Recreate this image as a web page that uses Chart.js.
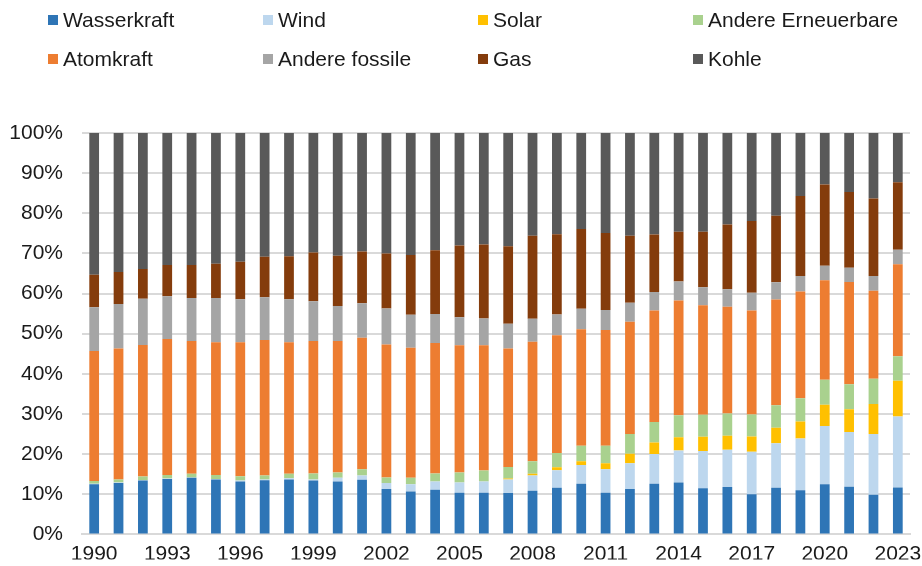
<!DOCTYPE html>
<html>
<head>
<meta charset="utf-8">
<script src="https://cdn.jsdelivr.net/npm/chart.js@4.4.1/dist/chart.umd.min.js"></script>
<style>
  html, body { margin: 0; padding: 0; background: #fff; }
  #wrap { position: relative; width: 922px; height: 566px; }
  #chart { position: absolute; left: 0; top: 0; }
  .legend-item {
    position: absolute;
    font-family: "Liberation Sans", Arial, sans-serif;
    font-size: 21px;
    color: #1a1a1a;
    line-height: 24px;
    white-space: nowrap;
  }
  .legend-item span.box {
    position: absolute;
    left: -15px;
    top: 7px;
    width: 10px;
    height: 10px;
  }
</style>
</head>
<body>
<div id="wrap">
  <canvas id="chart" width="922" height="566"></canvas>
</div>
<script>
const years = [
  "1990", "1991", "1992", "1993", "1994", "1995", "1996", "1997", "1998", "1999",
  "2000", "2001", "2002", "2003", "2004", "2005", "2006", "2007", "2008", "2009",
  "2010", "2011", "2012", "2013", "2014", "2015", "2016", "2017", "2018", "2019",
  "2020", "2021", "2022", "2023"
];

// Anteile in Prozent, von unten nach oben gestapelt
const wasserkraft = [12.5, 12.8, 13.4, 13.8, 14.1, 13.7, 13.2, 13.5, 13.7, 13.4,
  13.2, 13.6, 11.3, 10.7, 11.1, 10.4, 10.4, 10.3, 10.9, 11.6,
  12.6, 10.4, 11.3, 12.6, 12.9, 11.5, 11.8, 10.0, 11.6, 11.0,
  12.5, 11.9, 9.9, 11.7];
const wind = [0.1, 0.1, 0.1, 0.1, 0.1, 0.1, 0.2, 0.2, 0.3, 0.3,
  0.9, 1.1, 1.5, 1.8, 2.1, 2.5, 2.8, 3.4, 3.8, 4.4,
  4.7, 5.8, 6.4, 7.4, 8.0, 9.3, 9.3, 10.6, 11.1, 12.9,
  14.5, 13.6, 15.1, 17.7];
const solar = [0, 0, 0, 0, 0, 0, 0, 0, 0, 0,
  0, 0, 0, 0, 0, 0, 0, 0.2, 0.4, 0.7,
  0.9, 1.5, 2.4, 2.9, 3.3, 3.5, 3.5, 3.8, 3.9, 4.2,
  5.3, 5.7, 7.5, 8.9];
const andereErneuerbare = [0.7, 0.8, 0.9, 0.9, 0.9, 1.0, 1.1, 1.0, 1.1, 1.5,
  1.3, 1.5, 1.4, 1.6, 2.0, 2.5, 2.7, 2.9, 3.1, 3.6,
  3.9, 4.4, 4.9, 5.1, 5.5, 5.5, 5.5, 5.5, 5.6, 5.8,
  6.2, 6.2, 6.3, 6.1];
const atomkraft = [32.4, 32.6, 32.8, 33.9, 33.1, 33.1, 33.4, 33.7, 32.8, 33.0,
  32.8, 32.8, 33.1, 32.4, 32.5, 31.7, 31.2, 29.5, 29.8, 29.3,
  29.0, 28.8, 28.0, 27.8, 28.6, 27.3, 26.6, 25.9, 26.3, 26.6,
  24.8, 25.5, 21.9, 22.9];
const andereFossile = [10.9, 11.1, 11.5, 10.6, 10.7, 11.0, 10.7, 10.7, 10.7, 9.9,
  8.7, 8.6, 9.0, 8.2, 7.2, 7.0, 6.7, 6.2, 5.7, 5.2,
  5.1, 5.0, 4.7, 4.6, 4.7, 4.5, 4.4, 4.4, 4.3, 3.9,
  3.6, 3.5, 3.7, 3.6];
const gas = [8.1, 8.0, 7.4, 7.8, 8.2, 8.5, 9.3, 10.1, 10.7, 12.1,
  12.5, 12.9, 13.7, 14.9, 15.9, 17.9, 18.4, 19.3, 20.7, 20.0,
  19.9, 19.2, 16.7, 14.3, 12.4, 13.8, 16.1, 17.9, 16.6, 19.9,
  20.3, 18.9, 19.3, 16.8];
const kohle = [35.3, 34.6, 33.9, 32.9, 32.9, 32.6, 32.1, 30.8, 30.7, 29.8,
  30.6, 29.5, 30.0, 30.4, 29.2, 28.0, 27.8, 28.2, 25.6, 25.2,
  23.9, 24.9, 25.6, 25.3, 24.6, 24.6, 22.8, 21.9, 20.6, 15.7,
  12.8, 14.7, 16.3, 12.3];

const yTicks = [0, 10, 20, 30, 40, 50, 60, 70, 80, 90, 100];

const series = [
  { label: "Wasserkraft", data: wasserkraft, color: "#2E75B6" },
  { label: "Wind", data: wind, color: "#BDD7EE" },
  { label: "Solar", data: solar, color: "#FFC000" },
  { label: "Andere Erneuerbare", data: andereErneuerbare, color: "#A9D18E" },
  { label: "Atomkraft", data: atomkraft, color: "#ED7D31" },
  { label: "Andere fossile", data: andereFossile, color: "#A5A5A5" },
  { label: "Gas", data: gas, color: "#843C0C" },
  { label: "Kohle", data: kohle, color: "#595959" }
];

const font = { family: "'Liberation Sans', Arial, sans-serif", size: 21 };

const ctx = document.getElementById("chart").getContext("2d");
new Chart(ctx, {
  type: "bar",
  data: {
    labels: years,
    datasets: series.map(s => ({
      label: s.label,
      data: s.data,
      backgroundColor: s.color,
      borderWidth: 0,
      barPercentage: 0.4,
      categoryPercentage: 1.0
    }))
  },
  options: {
    responsive: false,
    animation: false,
    layout: { padding: { top: 133, right: 12, left: 0, bottom: 0 } },
    plugins: {
      legend: { display: false },
      tooltip: { enabled: false }
    },
    scales: {
      x: {
        stacked: true,
        grid: { display: false, drawTicks: false },
        border: { display: true, color: "#d9d9d9", width: 2 },
        ticks: {
          autoSkip: false,
          maxRotation: 0,
          padding: 7,
          color: "#1a1a1a",
          font: font,
          callback: function (val, idx) {
            return idx % 3 === 0 ? years[idx] : "";
          }
        },
        afterFit: function (scale) {
          scale.height = 25;
          scale.paddingLeft = 0;
          scale.paddingRight = 0;
        }
      },
      y: {
        stacked: true,
        min: 0,
        max: 100,
        afterBuildTicks: function (scale) {
          scale.ticks = yTicks.map(v => ({ value: v }));
        },
        grid: { color: "#d9d9d9", lineWidth: 2, drawTicks: false },
        border: { display: false },
        ticks: {
          padding: 19,
          color: "#1a1a1a",
          font: font,
          callback: v => v + "%"
        },
        afterFit: function (scale) { scale.width = 82; }
      }
    }
  }
});

// Legende: 2 Zeilen x 4 Spalten wie im Original
const wrap = document.getElementById("wrap");
const colX = [63, 278, 493, 708];
const rowY = [8, 47];
series.forEach((s, i) => {
  const item = document.createElement("div");
  item.className = "legend-item";
  item.style.left = colX[i % 4] + "px";
  item.style.top = rowY[Math.floor(i / 4)] + "px";
  const box = document.createElement("span");
  box.className = "box";
  box.style.background = s.color;
  item.appendChild(box);
  item.appendChild(document.createTextNode(s.label));
  wrap.appendChild(item);
});
</script>
</body>
</html>
